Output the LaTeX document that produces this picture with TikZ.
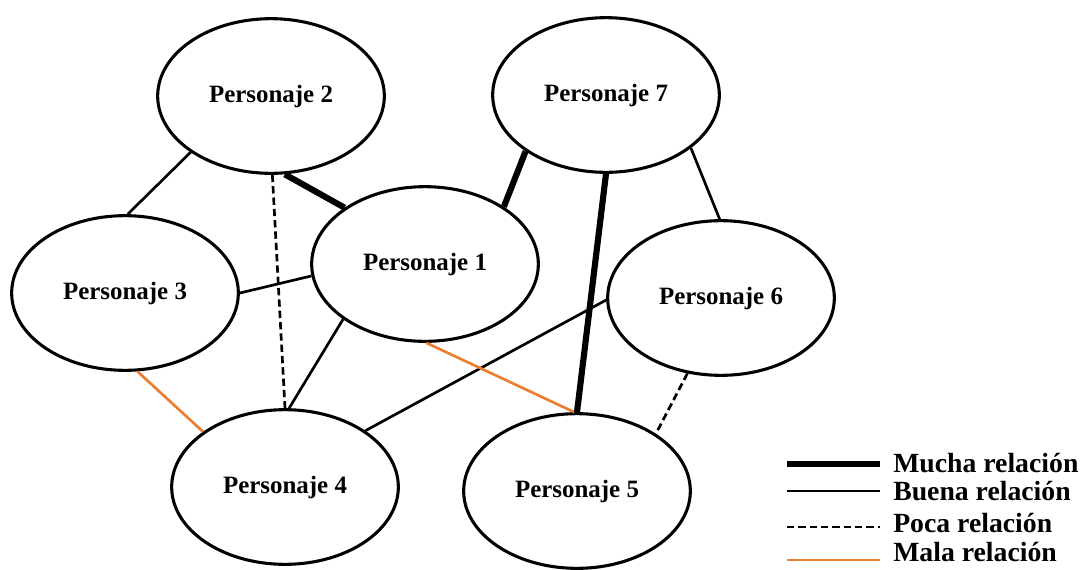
\documentclass[tikz,border=0pt]{standalone}
\usepackage{fontspec}
\setmainfont{Liberation Serif}
\usetikzlibrary{shapes.geometric}
\definecolor{malacol}{HTML}{ED7D31}
\begin{document}
\begin{tikzpicture}[x=0.75pt,y=-0.75pt,
  pers/.style={ellipse,draw,line width=2.3pt,fill=white,minimum width=170pt,minimum height=116pt,inner sep=0pt,
    font=\fontsize{18.7}{22}\selectfont\bfseries},
  mucha/.style={line width=4.6pt},
  buena/.style={line width=2pt},
  poca/.style={line width=2pt,dash pattern=on 5.5pt off 3pt},
  malarel/.style={line width=2pt,draw=malacol},
  leg/.style={anchor=base west,inner sep=0pt,font=\fontsize{20.8}{24}\selectfont\bfseries}]
\useasboundingbox (0,0) rectangle (1083,569);
\clip (0,0) rectangle (1083,569);

\node[pers] (p1) at (425,264) {Personaje 1};
\node[pers] (p2) at (271,96) {Personaje 2};
\node[pers] (p3) at (125,293) {Personaje 3};
\node[pers] (p4) at (285,487) {Personaje 4};
\node[pers] (p5) at (577,491) {Personaje 5};
\node[pers] (p6) at (721,298) {Personaje 6};
\node[pers] (p7) at (606,95) {Personaje 7};

% connectors
\draw[buena] (p2.-145) -- (p3.88);
\draw[mucha] (p2.-80) -- (p1.145);
\draw[poca] (p2.-89) -- (p4.90);
\draw[buena] (p3.0) -- (p1.186);
\draw[buena] (p1.-146) -- (p4.87);
\draw[malarel] (p3.-81) -- (p4.146);
\draw[buena] (p6.181) -- (p4.35);
\draw[malarel] (p1.-89) -- (p5.92);
\draw[mucha] (p7.-90) -- (p5.90);
\draw[mucha] (p7.-145) -- (p1.36);
\draw[buena] (p7.-32) -- (p6.91);
\draw[poca] (p6.-114) -- (p5.36);

% legend
\coordinate (l1a) at (787,464); \coordinate (l1b) at (880,464);
\coordinate (l2a) at (787,491); \coordinate (l2b) at (880,491);
\coordinate (l3a) at (787,527); \coordinate (l3b) at (880,527);
\coordinate (l4a) at (787,560); \coordinate (l4b) at (880,560);
\draw[line width=5.2pt] (l1a) -- (l1b);
\draw[buena] (l2a) -- (l2b);
\draw[poca] (l3a) -- (l3b);
\draw[malarel] (l4a) -- (l4b);
\node[leg] (t1) at (893,472) {Mucha relación};
\node[leg] (t2) at (893,500) {Buena relación};
\node[leg] (t3) at (893,532) {Poca relación};
\node[leg] (t4) at (893,561) {Mala relación};
\end{tikzpicture}
\end{document}
